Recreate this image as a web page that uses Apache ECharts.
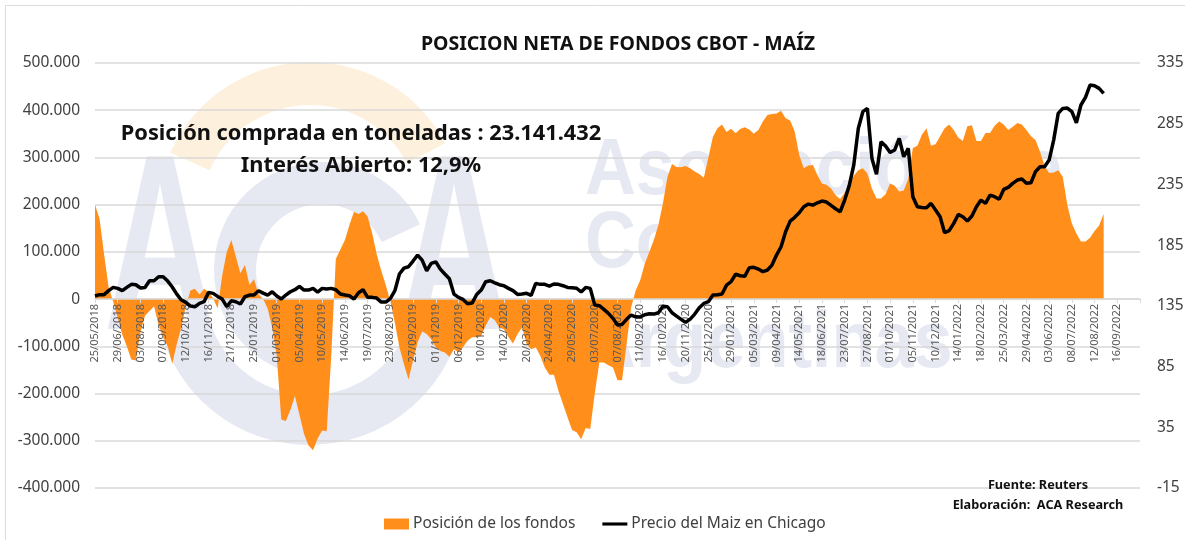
<!DOCTYPE html>
<html>
<head>
<meta charset="utf-8">
<title>Posicion neta de fondos CBOT - Maiz</title>
<script src="https://cdn.jsdelivr.net/npm/echarts@6/dist/echarts.min.js"></script>
<style>
  html, body { margin: 0; padding: 0; background: #fff; }
  #chart { width: 1185px; height: 540px; }
</style>
</head>
<body>
<div id="chart"></div>
<script>
// one label every 5 weeks, the axis itself is weekly
const tickLabels = [
  '25/05/2018','29/06/2018','03/08/2018','07/09/2018','12/10/2018','16/11/2018','21/12/2018','25/01/2019',
  '01/03/2019','05/04/2019','10/05/2019','14/06/2019','19/07/2019','23/08/2019','27/09/2019','01/11/2019',
  '06/12/2019','10/01/2020','14/02/2020','20/03/2020','24/04/2020','29/05/2020','03/07/2020','07/08/2020',
  '11/09/2020','16/10/2020','20/11/2020','25/12/2020','29/01/2021','05/03/2021','09/04/2021','14/05/2021',
  '18/06/2021','23/07/2021','27/08/2021','01/10/2021','05/11/2021','10/12/2021','14/01/2022','18/02/2022',
  '25/03/2022','29/04/2022','03/06/2022','08/07/2022','12/08/2022','16/09/2022'
];
const weeksOnAxis = 231;

// net position of the funds, thousands of contracts
const posicionFondos = [
  200,170,95,25,-5,-40,-75,-100,-128,-130,-70,-35,-25,-15,-55,-80,-100,-137,-95,-60,
  -15,18,22,10,22,15,2,-20,50,100,125,90,55,72,30,42,10,0,-20,-60,
  -120,-255,-258,-235,-205,-245,-285,-310,-320,-295,-278,-280,-120,85,105,125,157,185,180,186,
  175,140,95,60,30,-5,-50,-102,-138,-170,-130,-92,-68,-74,-85,-102,-110,-113,-122,-106,
  -113,-102,-88,-81,-81,-78,-56,-38,-45,-60,-64,-80,-94,-74,-60,-95,-106,-102,-120,-145,
  -160,-160,-194,-222,-250,-277,-282,-297,-273,-275,-200,-134,-134,-140,-145,-172,-172,-95,-18,18,
  40,75,100,125,157,203,259,286,280,279,282,277,270,265,257,300,344,362,370,354,
  361,351,360,364,359,350,358,376,390,392,393,399,383,378,355,305,277,283,284,263,
  245,242,234,220,212,225,242,261,273,277,266,234,213,213,222,245,240,228,230,255,
  320,325,348,362,325,328,345,362,370,358,342,335,366,368,335,335,352,352,367,376,
  370,358,365,373,370,358,345,337,312,282,267,268,273,259,200,160,139,122,122,130,
  144,156,180
];

// Chicago corn price, right axis
const precioMaiz = [
  143.1,144.2,144.2,147.5,150.2,149.4,147.5,150.2,152.7,152.4,149.7,150.2,155.7,155.7,159,159,155.4,150.5,144.7,139.8,
  137.9,134.8,134.3,137,138.4,146.1,145.3,142.8,140.6,134.3,139.2,138.4,136.5,142.5,143.9,143.9,147.5,145.5,143.9,146.6,
  143.1,140.6,143.9,146.6,148.3,151,148,148,149.4,146.4,149.4,148.8,149.4,148.3,144.7,143.9,143.3,140.6,145.8,148.3,
  142,142,141.4,138.1,138.1,141,147.5,161.2,166.1,167.2,171.9,176.8,172.7,163.9,170,171.3,165.3,161.2,157.3,144.7,
  142,140.3,136.8,137.3,144.4,148,154.9,155.7,154,152.4,151.6,149.4,147.5,144.4,144.7,145.3,143.6,153.5,152.7,152.7,
  151.3,153,152.7,151.6,150.2,150,149.5,146.5,150.2,149.4,135.7,135.1,132.1,128.8,124.7,119.2,119.7,123.9,127.4,126,
  125.8,127.7,128.5,128.2,129.3,134.6,134.3,129.3,126.6,123.9,121.4,124.1,128.2,133.5,137,138.4,143.9,144.2,144.7,152.1,
  154.9,161,159.8,159.3,166.4,166.7,165.3,163.1,164.5,168.6,176.8,183.7,196,204.8,207.9,211.7,216.6,218.8,218,219.9,
  221.3,220.5,217.7,215,212.5,222.1,234,251,281.1,294.9,297.6,256.4,243.3,270.2,266.6,261.4,263.3,272.9,257.8,264.7,
  224.9,216.6,216,215.8,219.4,213.9,208.4,195.2,196.9,202.9,210.3,208.4,204.8,209,216.6,222.1,219.4,226.2,224.9,222.7,
  230.9,232.6,235.9,238.6,239.4,235.9,236.4,245.5,249.6,249.6,255.1,271.5,293.5,297.6,297.9,294.9,285.8,300.4,306.7,316.8,
  316.3,314.1,310
];

const ticksPrecio = [-15, 35, 85, 135, 185, 235, 285, 335];

const NARANJA = '#FF8F1A';
const MARCA = '#E6E8F2';
const FONT = '"Noto Sans", sans-serif';

const categories = [];
for (let i = 0; i < weeksOnAxis; i++) {
  categories.push(i % 5 === 0 && tickLabels[i / 5] ? tickLabels[i / 5] : '');
}

// watermark + texts that are not part of the axes
const marcaText = (text, x, y, size, scaleX) => ({
  type: 'text', x, y, scaleX: scaleX || 1, z: -10, silent: true,
  style: { text, fill: MARCA, font: 'bold ' + size + 'px "Liberation Sans", sans-serif', textVerticalAlign: 'bottom' }
});
const nota = (text, x, y, size) => ({
  type: 'text', x, y, z: 20, silent: true,
  style: { text, fill: '#111', font: 'bold ' + size + 'px ' + FONT, textAlign: 'center', textVerticalAlign: 'middle' }
});

const chart = echarts.init(document.getElementById('chart'), null, { renderer: 'canvas' });

chart.setOption({
  backgroundColor: '#fff',
  animation: false,
  textStyle: { fontFamily: FONT },
  title: {
    text: 'POSICION NETA DE FONDOS CBOT - MAÍZ',
    left: 613, top: 29, textAlign: 'center',
    textStyle: { fontSize: 19.5, fontWeight: 'bold', color: '#111', fontFamily: FONT }
  },
  grid: { left: 95, right: 45, top: 63, bottom: 52, outerBoundsMode: 'none' },
  legend: {
    left: 379, top: 511, itemGap: 27, itemWidth: 25, itemHeight: 11,
    textStyle: { fontSize: 15.5, color: '#404040', padding: [0, 0, 0, -1] },
    data: [
      { name: 'Posición de los fondos', icon: 'rect' },
      { name: 'Precio del Maiz en Chicago', icon: 'path://M0 4H28V7.5H0Z' }
    ]
  },
  xAxis: {
    type: 'category',
    data: categories,
    boundaryGap: false,
    z: 5,
    // onZero does not move the axis here, so the bottom axis is lifted to the 0 line
    offset: -189,
    axisLine: { onZero: false, lineStyle: { color: '#d9d9d9', width: 1.5 } },
    axisTick: { interval: 4, length: 4, lineStyle: { color: '#d9d9d9' } },
    axisLabel: { interval: 0, rotate: 90, margin: 5, fontSize: 11, color: '#595959' },
    splitLine: { show: false }
  },
  yAxis: [
    {
      type: 'value', min: -400, max: 500, interval: 100,
      axisLine: { show: false }, axisTick: { show: false },
      axisLabel: {
        margin: 15, fontSize: 15.5, color: '#404040',
        formatter: v => (v === 0 ? '0' : v + '.000')
      },
      splitLine: { lineStyle: { color: '#d9d9d9', width: 1.5 } }
    },
    {
      type: 'value', min: -15, max: 335, position: 'right',
      axisLine: { show: false },
      axisTick: { show: false, customValues: ticksPrecio },
      axisLabel: { margin: 17, fontSize: 15.5, color: '#404040', customValues: ticksPrecio },
      splitLine: { show: false }
    }
  ],
  graphic: [
    { type: 'rect', z: -20, silent: true, shape: { x: 5.5, y: 5.5, width: 1300, height: 700 }, style: { fill: 'none', stroke: '#dcdcdc', lineWidth: 1 } },
    // ACA logo
    { type: 'sector', z: -11, silent: true, shape: { cx: 310, cy: 215, r: 153, r0: 110, startAngle: 204 * Math.PI / 180, endAngle: 332 * Math.PI / 180 }, style: { fill: '#FDF1DD' } },
    { type: 'sector', z: -10, silent: true, shape: { cx: 310, cy: 290, r: 155, r0: 105, startAngle: 20 * Math.PI / 180, endAngle: 165 * Math.PI / 180 }, style: { fill: MARCA } },
    { type: 'sector', z: -10, silent: true, shape: { cx: 322, cy: 270, r: 108, r0: 66, startAngle: 90 * Math.PI / 180, endAngle: 335 * Math.PI / 180 }, style: { fill: MARCA } },
    marcaText('A', 104, 385, 250, 0.62),
    marcaText('A', 398, 385, 250, 0.62),
    marcaText('Asociación de', 585, 212, 80, 0.88),
    marcaText('Cooperativas', 585, 285, 80, 0.88),
    marcaText('Argentinas', 585, 385, 80, 0.88),
    // notes
    nota('Posición comprada en toneladas : 23.141.432', 361, 134, 21.8),
    nota('Interés Abierto: 12,9%', 361, 166, 21.8),
    nota('Fuente: Reuters', 1038, 485, 12.7),
    nota('Elaboración:  ACA Research', 1038, 505, 12.7)
  ],
  series: [
    {
      name: 'Posición de los fondos',
      type: 'line',
      yAxisIndex: 0,
      data: posicionFondos,
      symbol: 'none',
      z: 2,
      itemStyle: { color: NARANJA },
      lineStyle: { width: 0, color: NARANJA },
      areaStyle: { color: NARANJA, opacity: 1 }
    },
    {
      name: 'Precio del Maiz en Chicago',
      type: 'line',
      yAxisIndex: 1,
      data: precioMaiz,
      symbol: 'none',
      z: 6,
      itemStyle: { color: '#000' },
      lineStyle: { width: 3.5, color: '#000' }
    }
  ]
});
</script>
</body>
</html>
